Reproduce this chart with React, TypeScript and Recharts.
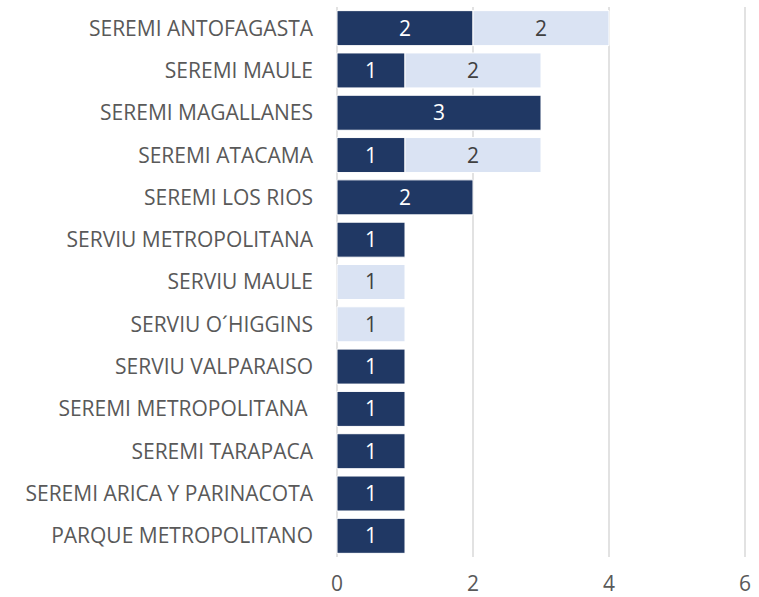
import React from 'react';
import { BarChart, Bar, XAxis, YAxis, CartesianGrid, LabelList } from 'recharts';

const categories = [
  'SEREMI ANTOFAGASTA',
  'SEREMI MAULE',
  'SEREMI MAGALLANES',
  'SEREMI ATACAMA',
  'SEREMI LOS RIOS',
  'SERVIU METROPOLITANA',
  'SERVIU MAULE',
  'SERVIU O´HIGGINS',
  'SERVIU VALPARAISO',
  'SEREMI METROPOLITANA\u00A0',
  'SEREMI TARAPACA',
  'SEREMI ARICA Y PARINACOTA',
  'PARQUE METROPOLITANO',
];
const seriesDark = [2, 1, 3, 1, 2, 1, 0, 0, 1, 1, 1, 1, 1];
const seriesLight = [2, 2, 0, 2, 0, 0, 1, 1, 0, 0, 0, 0, 0];
const xTicks = [0, 2, 4, 6];

const data = categories.map((name, i) => ({
  name,
  a: seriesDark[i],
  b: seriesLight[i],
}));

const FONT = '"Open Sans", sans-serif';
const FS = 21;
const fmt = (v: any) => (v ? String(v) : '');

export default function App() {
  return (
    <div style={{ position: 'absolute', left: 0, top: 0 }}>
      <BarChart
        width={759}
        height={597}
        data={data}
        layout="vertical"
        margin={{ top: 7, right: 14, bottom: 0, left: 0 }}
        barCategoryGap="8.6%"
      >
        <CartesianGrid horizontal={false} stroke="#D9D9D9" strokeWidth={1.5} />
        <XAxis
          type="number"
          domain={[0, 6]}
          ticks={xTicks}
          axisLine={false}
          tickLine={false}
          tickSize={0}
          tickMargin={19}
          height={40}
          tick={{ fill: '#595959', fontSize: FS, fontFamily: FONT }}
        />
        <YAxis
          type="category"
          dataKey="name"
          width={337}
          axisLine={false}
          tickLine={false}
          tickSize={0}
          tickMargin={24}
          interval={0}
          tick={{ fill: '#595959', fontSize: FS, fontFamily: FONT }}
        />
        <Bar dataKey="a" stackId="s" fill="#203864" stroke="#FFFFFF" strokeWidth={1} isAnimationActive={false}>
          <LabelList dataKey="a" position="center" formatter={fmt} fill="#FFFFFF" style={{ fontSize: FS, fontFamily: FONT }} />
        </Bar>
        <Bar dataKey="b" stackId="s" fill="#DAE3F3" stroke="#FFFFFF" strokeWidth={1} isAnimationActive={false}>
          <LabelList dataKey="b" position="center" formatter={fmt} fill="#404040" style={{ fontSize: FS, fontFamily: FONT }} />
        </Bar>
      </BarChart>
    </div>
  );
}
